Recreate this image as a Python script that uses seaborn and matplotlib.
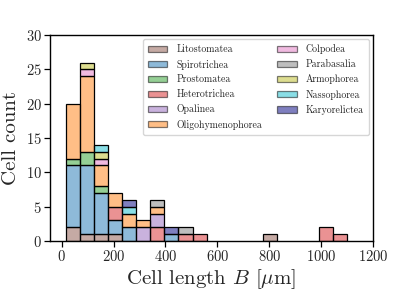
import numpy as np
import pandas as pd
import matplotlib
matplotlib.use("Agg")
import matplotlib.pyplot as plt
from matplotlib.patches import Patch
import seaborn as sns

# ---- data (counts per histogram bin, 20 bins) ----
classes = ["Litostomatea", "Spirotrichea", "Prostomatea", "Heterotrichea",
           "Opalinea", "Oligohymenophorea", "Colpodea", "Parabasalia",
           "Armophorea", "Nassophorea", "Karyorelictea"]
colors = ["tab:brown", "tab:blue", "tab:green", "tab:red", "tab:purple",
          "tab:orange", "tab:pink", "tab:gray", "tab:olive", "tab:cyan", "navy"]

litostomatea      = [2, 1, 1, 1, 0, 0, 0, 0, 0, 0, 0, 0, 0, 0, 1, 0, 0, 0, 0, 0]
spirotrichea      = [9, 10, 6, 2, 2, 0, 0, 1, 0, 0, 0, 0, 0, 0, 0, 0, 0, 0, 0, 0]
prostomatea       = [1, 2, 1, 0, 0, 0, 0, 0, 0, 0, 0, 0, 0, 0, 0, 0, 0, 0, 0, 0]
heterotrichea     = [0, 0, 0, 2, 0, 0, 2, 0, 1, 1, 0, 0, 0, 0, 0, 0, 0, 0, 2, 1]
opalinea          = [0, 0, 0, 0, 0, 2, 2, 0, 0, 0, 0, 0, 0, 0, 0, 0, 0, 0, 0, 0]
oligohymenophorea = [8, 11, 3, 2, 2, 1, 1, 0, 0, 0, 0, 0, 0, 0, 0, 0, 0, 0, 0, 0]
colpodea          = [0, 1, 1, 0, 0, 0, 0, 0, 0, 0, 0, 0, 0, 0, 0, 0, 0, 0, 0, 0]
parabasalia       = [0, 0, 0, 0, 0, 0, 1, 0, 1, 0, 0, 0, 0, 0, 0, 0, 0, 0, 0, 0]
armophorea        = [0, 1, 1, 0, 0, 0, 0, 0, 0, 0, 0, 0, 0, 0, 0, 0, 0, 0, 0, 0]
nassophorea       = [0, 0, 1, 0, 1, 0, 0, 0, 0, 0, 0, 0, 0, 0, 0, 0, 0, 0, 0, 0]
karyorelictea     = [0, 0, 0, 0, 1, 0, 0, 1, 0, 0, 0, 0, 0, 0, 0, 0, 0, 0, 0, 0]

counts = [litostomatea, spirotrichea, prostomatea, heterotrichea, opalinea,
          oligohymenophorea, colpodea, parabasalia, armophorea, nassophorea,
          karyorelictea]

bin_min, bin_max, n_bins = 16.6, 1100.0, 20
binwidth = (bin_max - bin_min) / n_bins
edges = np.linspace(bin_min, bin_max, n_bins + 1)
centers = 0.5 * (edges[:-1] + edges[1:])

rows = []
for cls, cnt in zip(classes, counts):
    for c, n in zip(centers, cnt):
        rows.append({"length": float(c), "count": float(n), "class": cls})
df = pd.DataFrame(rows)

# ---- style ----
sns.set_theme(style="ticks")
plt.rcParams["font.family"] = ["cmr10", "DejaVu Serif"]
plt.rcParams["mathtext.fontset"] = "cm"
plt.rcParams["axes.formatter.use_mathtext"] = True
plt.rcParams["axes.unicode_minus"] = False

fig = plt.figure(figsize=(4.15, 2.97), dpi=100)
ax = fig.add_axes([0.1205, 0.1886, 0.7785, 0.6934])

palette = dict(zip(classes, colors))
sns.histplot(data=df, x="length", weights="count", hue="class",
             hue_order=classes[::-1], palette=palette, multiple="stack",
             binwidth=binwidth, binrange=(bin_min, bin_max),
             alpha=0.5, edgecolor="black", linewidth=0.9,
             legend=False, ax=ax)

# hide empty (zero-height) bars
for p in ax.patches:
    if abs(p.get_height()) < 1e-9:
        p.set_visible(False)

for s in ["top", "right", "left", "bottom"]:
    ax.spines[s].set_visible(True)
    ax.spines[s].set_linewidth(1.0)
    ax.spines[s].set_color("black")

ax.set_xlim(-45, 1200)
ax.set_ylim(0, 30)
ax.set_xticks([0, 200, 400, 600, 800, 1000, 1200])
ax.set_yticks([0, 5, 10, 15, 20, 25, 30])
ax.tick_params(labelsize=10.5, length=4, width=0.9, color="black", pad=2)
ax.set_xlabel(r"Cell length $B$ [$\mu$m]", fontsize=15, labelpad=2)
ax.set_ylabel("Cell count", fontsize=15, labelpad=4)

handles = [Patch(facecolor=c, edgecolor="black", alpha=0.5, linewidth=0.9)
           for c in colors]
ax.legend(handles, classes, ncol=2, loc="upper right", fontsize=7.1,
          frameon=True, handlelength=2.0, handleheight=0.6,
          handletextpad=0.9, columnspacing=1.5, labelspacing=0.53,
          borderpad=0.5, borderaxespad=0.45)

fig.savefig("out.png", dpi=100)
